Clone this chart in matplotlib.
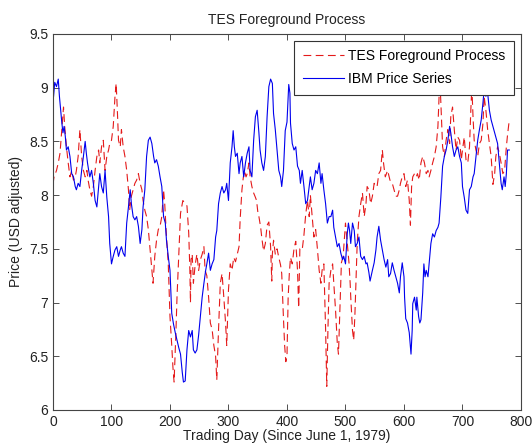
import numpy as np
from matplotlib import pyplot as plt

plt.rcParams['font.family'] = ['Liberation Sans', 'DejaVu Sans']

# IBM price series (trading day, price)
ibm_days = [0, 1, 3, 6, 9, 11, 13, 15, 17, 19, 21, 23, 26, 29, 32, 35, 38, 40, 43, 46,
            49, 52, 55, 57, 59, 61, 63, 66, 69, 72, 75, 78, 80, 83, 86, 89, 92, 95, 97, 100,
            103, 106, 109, 112, 115, 117, 120, 123, 126, 129, 132, 134, 137, 140, 143, 146, 149, 152, 154, 157,
            160, 163, 166, 169, 172, 174, 177, 180, 183, 186, 189, 192, 194, 197, 200, 203, 206, 209, 212, 215,
            218, 221, 223, 226, 229, 232, 235, 238, 240, 243, 246, 249, 252, 255, 258, 261, 263, 266, 269, 272,
            275, 278, 280, 283, 286, 289, 292, 295, 297, 300, 303, 306, 308, 310, 312, 315, 318, 320, 323, 326,
            329, 332, 335, 337, 340, 343, 346, 349, 352, 354, 357, 360, 363, 366, 369, 372, 375, 377, 380, 383,
            386, 389, 391, 394, 397, 400, 403, 405, 406, 409, 412, 415, 418, 421, 423, 426, 429, 432, 435, 438,
            440, 443, 446, 449, 452, 455, 458, 460, 463, 466, 469, 472, 475, 478, 480, 483, 486, 489, 492, 495,
            497, 500, 503, 505, 507, 509, 512, 515, 517, 520, 523, 526, 529, 532, 535, 537, 540, 542, 546, 549,
            552, 554, 557, 560, 563, 566, 569, 572, 574, 577, 580, 583, 586, 589, 592, 594, 597, 600, 601, 603,
            606, 609, 612, 614, 615, 618, 621, 622, 625, 627, 629, 632, 634, 636, 638, 641, 643, 646, 649, 652,
            655, 658, 660, 663, 666, 669, 672, 675, 678, 680, 683, 686, 689, 692, 695, 698, 700, 703, 706, 709,
            712, 715, 718, 720, 723, 726, 729, 732, 735, 737, 740, 743, 746, 749, 752, 755, 757, 760, 763, 766,
            768, 771, 773, 775, 777, 780]
ibm_price = [8.88, 8.92, 9.05, 9.01, 9.08, 8.92, 8.80, 8.68, 8.58, 8.64, 8.55, 8.42, 8.45, 8.36, 8.20, 8.17, 8.08, 8.05, 8.11, 8.08,
             8.23, 8.36, 8.50, 8.39, 8.30, 8.23, 8.17, 8.23, 8.11, 7.95, 7.89, 8.08, 8.20, 8.08, 8.02, 8.23, 7.98, 7.80, 7.55, 7.36,
             7.43, 7.49, 7.52, 7.43, 7.49, 7.52, 7.46, 7.43, 7.74, 7.89, 8.05, 7.92, 7.80, 7.77, 7.80, 7.71, 7.55, 7.68, 7.89, 8.05,
             8.36, 8.51, 8.54, 8.48, 8.36, 8.30, 8.33, 8.27, 8.17, 8.08, 7.80, 7.74, 7.58, 7.43, 7.30, 6.90, 6.80, 6.72, 6.65, 6.58,
             6.52, 6.35, 6.26, 6.27, 6.56, 6.74, 6.68, 6.74, 6.56, 6.53, 6.56, 6.70, 6.87, 7.05, 7.18, 7.30, 7.36, 7.46, 7.30, 7.36,
             7.40, 7.61, 7.67, 7.92, 8.02, 8.08, 8.02, 8.05, 8.11, 7.95, 8.30, 8.45, 8.60, 8.45, 8.36, 8.39, 8.20, 8.30, 8.36, 8.17,
             8.30, 8.39, 8.45, 8.23, 8.17, 8.51, 8.73, 8.79, 8.58, 8.42, 8.30, 8.23, 8.36, 8.73, 9.01, 9.08, 9.04, 8.76, 8.61, 8.42,
             8.23, 8.17, 8.08, 8.23, 8.60, 8.68, 9.03, 8.95, 8.67, 8.48, 8.42, 8.45, 8.27, 8.23, 8.11, 8.23, 8.08, 7.92, 7.95, 8.08,
             8.17, 8.05, 8.11, 8.23, 8.20, 8.30, 8.11, 8.20, 8.05, 7.92, 7.74, 7.80, 7.80, 7.86, 7.70, 7.61, 7.52, 7.55, 7.46, 7.40,
             7.43, 7.36, 7.64, 7.74, 7.67, 7.55, 7.74, 7.67, 7.52, 7.55, 7.61, 7.43, 7.40, 7.43, 7.36, 7.37, 7.28, 7.20, 7.30, 7.37,
             7.49, 7.61, 7.71, 7.58, 7.49, 7.40, 7.33, 7.40, 7.24, 7.27, 7.37, 7.30, 7.24, 7.18, 7.09, 7.24, 7.37, 7.24, 7.05, 6.85,
             6.81, 6.72, 6.52, 6.74, 6.99, 7.05, 6.93, 7.05, 6.87, 6.81, 6.84, 7.09, 7.36, 7.24, 7.30, 7.24, 7.36, 7.55, 7.64, 7.61,
             7.67, 7.70, 7.74, 7.98, 8.27, 8.36, 8.42, 8.51, 8.64, 8.58, 8.45, 8.36, 8.42, 8.45, 8.36, 8.30, 8.08, 7.98, 7.86, 7.83,
             8.05, 8.08, 8.17, 8.20, 8.36, 8.51, 8.61, 8.70, 8.86, 8.98, 8.92, 8.95, 8.79, 8.70, 8.64, 8.58, 8.54, 8.48, 8.30, 8.11,
             8.05, 8.17, 8.08, 8.20, 8.42, 8.42]

# TES foreground process (trading day, price)
tes_days = [0, 2, 4, 6, 9, 12, 15, 18, 20, 23, 26, 29, 32, 35, 38, 40, 43, 46, 49, 52,
            55, 58, 60, 63, 66, 69, 72, 75, 78, 80, 83, 86, 89, 92, 95, 97, 100, 103, 106, 108,
            110, 112, 115, 117, 120, 123, 126, 129, 131, 134, 137, 140, 143, 146, 149, 152, 154, 157, 160, 163,
            166, 169, 171, 174, 177, 180, 183, 186, 189, 191, 194, 197, 200, 203, 205, 207, 210, 212, 215, 218,
            222, 226, 229, 232, 234, 235, 236, 238, 240, 243, 246, 249, 252, 255, 258, 260, 263, 266, 269, 272,
            275, 278, 280, 283, 286, 289, 292, 295, 297, 300, 303, 306, 309, 312, 315, 318, 320, 323, 325, 327,
            330, 332, 335, 337, 340, 343, 346, 348, 350, 352, 355, 357, 360, 363, 366, 369, 372, 374, 375, 377,
            380, 383, 386, 389, 391, 394, 396, 398, 400, 402, 404, 406, 409, 412, 415, 418, 420, 422, 426, 429,
            432, 435, 438, 440, 443, 446, 449, 452, 455, 458, 460, 463, 466, 468, 470, 472, 475, 478, 480, 483,
            486, 488, 491, 493, 496, 500, 503, 506, 508, 509, 512, 514, 516, 519, 520, 523, 526, 529, 532, 535,
            537, 540, 543, 546, 549, 552, 554, 557, 560, 563, 565, 568, 572, 576, 580, 583, 586, 589, 592, 594,
            597, 600, 603, 606, 609, 611, 613, 615, 618, 621, 623, 626, 629, 632, 635, 638, 641, 643, 646, 649,
            652, 655, 658, 660, 662, 664, 666, 669, 672, 675, 678, 680, 683, 686, 689, 692, 695, 698, 700, 703,
            706, 709, 712, 714, 716, 718, 720, 723, 726, 729, 732, 735, 737, 740, 743, 746, 749, 752, 755, 757,
            760, 763, 766, 769, 772, 775, 777, 780]
tes_price = [8.10, 8.18, 8.20, 8.23, 8.30, 8.39, 8.61, 8.82, 8.64, 8.45, 8.30, 8.17, 8.23, 8.14, 8.17, 8.23, 8.36, 8.61, 8.36, 8.23,
             8.17, 8.23, 8.14, 8.05, 7.99, 8.08, 8.23, 8.36, 8.42, 8.30, 8.45, 8.51, 8.23, 8.36, 8.42, 8.48, 8.51, 8.64, 8.92, 9.04,
             8.79, 8.51, 8.45, 8.61, 8.45, 8.36, 8.23, 8.05, 7.86, 7.99, 8.05, 8.11, 8.14, 8.20, 8.11, 8.05, 7.95, 7.86, 7.80, 7.68,
             7.49, 7.30, 7.18, 7.43, 7.58, 7.68, 7.71, 7.80, 8.05, 7.92, 7.61, 7.37, 6.87, 6.60, 6.40, 6.26, 6.70, 7.05, 7.45, 7.83,
             7.95, 7.92, 7.90, 7.65, 7.30, 7.00, 7.40, 7.45, 7.18, 7.35, 7.45, 7.30, 7.40, 7.45, 7.52, 7.30, 7.25, 7.05, 6.81, 6.75,
             6.60, 6.50, 6.28, 6.75, 7.18, 7.27, 7.05, 6.81, 6.60, 7.12, 7.36, 7.30, 7.42, 7.38, 7.45, 7.52, 7.78, 8.05, 8.15, 8.23,
             8.17, 8.20, 8.30, 8.17, 8.08, 8.02, 7.98, 7.95, 7.85, 7.80, 7.70, 7.60, 7.48, 7.55, 7.72, 7.75, 7.52, 7.20, 7.45, 7.58,
             7.45, 7.50, 7.42, 7.35, 7.27, 6.85, 6.60, 6.45, 6.50, 7.05, 7.27, 7.42, 7.36, 7.50, 7.57, 7.30, 6.95, 7.50, 7.49, 7.63,
             7.82, 7.95, 7.80, 8.00, 7.80, 7.61, 7.68, 7.50, 7.30, 7.18, 7.30, 7.36, 6.75, 6.22, 6.75, 7.18, 7.30, 7.36, 7.18, 6.93,
             6.62, 6.52, 7.05, 7.37, 7.43, 7.74, 7.55, 7.37, 7.18, 7.05, 6.74, 6.65, 6.87, 7.37, 7.55, 7.80, 7.92, 8.02, 7.80, 7.92,
             8.08, 8.05, 7.92, 7.99, 8.11, 8.08, 8.08, 8.20, 8.23, 8.42, 8.30, 8.17, 8.23, 8.14, 8.11, 8.05, 7.99, 7.99, 8.05, 8.11,
             8.17, 8.20, 8.08, 8.14, 7.95, 7.72, 8.08, 8.17, 8.20, 8.17, 8.20, 8.14, 8.30, 8.36, 8.30, 8.20, 8.23, 8.17, 8.23, 8.30,
             8.36, 8.45, 8.64, 8.92, 9.00, 8.73, 8.45, 8.36, 8.51, 8.61, 8.48, 8.73, 8.82, 8.61, 8.42, 8.54, 8.51, 8.33, 8.42, 8.54,
             8.33, 8.30, 8.45, 8.76, 9.01, 8.73, 8.51, 8.42, 8.36, 8.48, 8.51, 8.67, 8.92, 8.79, 8.61, 8.48, 8.36, 8.10, 8.20, 8.36,
             8.45, 8.39, 8.30, 8.20, 8.23, 8.45, 8.56, 8.70]

fig = plt.figure(figsize=(5.32, 4.43), dpi=100)
ax = fig.add_axes([0.0996, 0.0745, 0.8797, 0.8488])

ax.plot(tes_days, tes_price, color='#e41a1a', linewidth=0.8, dashes=[7, 4],
        label='TES Foreground Process')
ax.plot(ibm_days, ibm_price, color='#0000ee', linewidth=0.8, label='IBM Price Series')

ax.set_xlim(0, 800)
ax.set_ylim(6, 9.5)
ax.set_xticks(np.arange(0, 801, 100))
ax.set_yticks(np.arange(6, 9.51, 0.5))
ax.set_yticklabels(['6', '6.5', '7', '7.5', '8', '8.5', '9', '9.5'])
ax.tick_params(direction='in', top=True, right=True, labelsize=10, length=4,
               width=0.6, colors='#333333', labelcolor='#222222')
for s in ax.spines.values():
    s.set_color('#444444')
    s.set_linewidth(0.8)

ax.set_title('TES Foreground Process', fontsize=10, color='#222222', pad=7)
ax.set_xlabel('Trading Day (Since June 1, 1979)', fontsize=10, color='#222222', labelpad=0)
ax.set_ylabel('Price (USD adjusted)', fontsize=10, color='#222222', labelpad=4)

leg = ax.legend(loc='upper right', fontsize=10, fancybox=False, framealpha=1,
                edgecolor='#333333', borderaxespad=0.5, handlelength=3.0,
                handletextpad=0.3, labelspacing=0.65, borderpad=0.6)
leg.get_frame().set_linewidth(0.8)

fig.savefig('out.png', dpi=100)
